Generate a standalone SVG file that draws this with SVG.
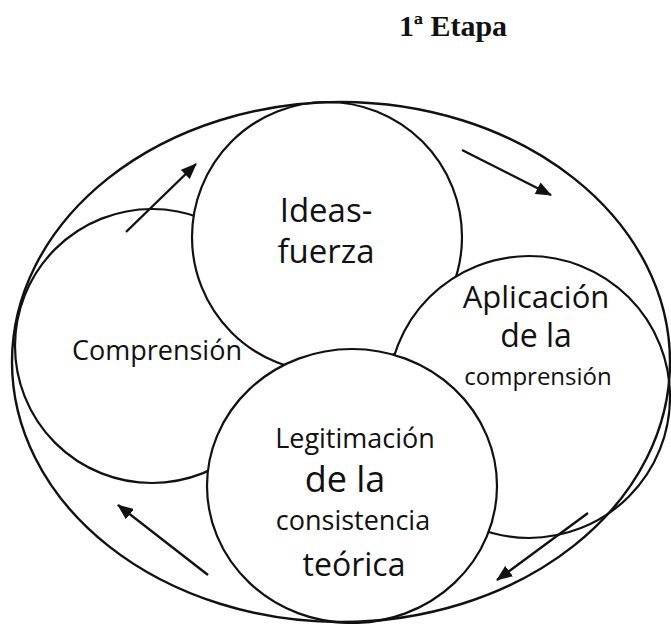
<svg xmlns="http://www.w3.org/2000/svg" width="671" height="624" viewBox="0 0 671 624">
<style>
.c{fill:#fff;stroke:#111;stroke-width:2.2}
.o{fill:none;stroke:#111;stroke-width:2.4}
.t{font-family:"Open Sans","DejaVu Sans",sans-serif;fill:#111;text-anchor:middle}
.a{stroke:#111;stroke-width:2.4;fill:none;marker-end:url(#ah)}
</style>
<defs>
<marker id="ah" viewBox="0 0 16 13" refX="15" refY="6.5" markerWidth="16" markerHeight="13" markerUnits="userSpaceOnUse" orient="auto">
<path d="M0,0 L16,6.5 L0,13 z" fill="#111"/>
</marker>
</defs>
<rect width="671" height="624" fill="#fff"/>
<text x="453" y="36" font-family="Liberation Serif,serif" font-weight="bold" font-size="30" text-anchor="middle" fill="#111">1ª Etapa</text>
<g id="comprension">
<circle class="c" cx="152" cy="346" r="137"/>
<text class="t" x="157" y="360" font-size="27">Comprensión</text>
</g>
<g id="ideas-fuerza">
<circle class="c" cx="327" cy="237" r="135"/>
<text class="t" x="326" y="222" font-size="33">Ideas-</text>
<text class="t" x="326" y="263" font-size="33">fuerza</text>
</g>
<g id="aplicacion">
<circle class="c" cx="529" cy="397" r="141"/>
<text class="t" x="536" y="308" font-size="31">Aplicación</text>
<text class="t" x="536" y="347" font-size="32">de la</text>
<text class="t" x="538" y="385" font-size="24">comprensión</text>
</g>
<g id="legitimacion">
<ellipse class="c" cx="352" cy="486" rx="145" ry="137"/>
<text class="t" x="355" y="448" font-size="27">Legitimación</text>
<text class="t" x="345" y="492" font-size="36">de la</text>
<text class="t" x="353" y="530" font-size="27">consistencia</text>
<text class="t" x="354" y="576" font-size="32">teórica</text>
</g>
<g id="outer">
<ellipse class="o" cx="341" cy="362" rx="329" ry="260"/>
</g>
<g id="connectors">
<line class="a" x1="126" y1="232" x2="196" y2="164"/>
<line class="a" x1="462" y1="150" x2="551" y2="195"/>
<line class="a" x1="588" y1="513" x2="497" y2="580"/>
<line class="a" x1="208" y1="575" x2="118" y2="505"/>
</g>
</svg>
